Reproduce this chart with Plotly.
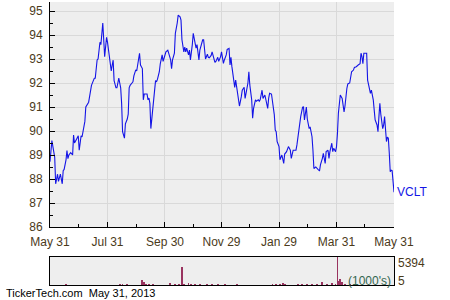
import pandas as pd
import plotly.graph_objects as go

# ---- data ----
start_date = "2012-05-31"
day_offsets = [0, 2, 5, 6, 8, 9, 11, 13, 14, 15, 17, 18, 19, 20, 22, 24, 25, 26, 28, 30,
               31, 33, 34, 35, 37, 38, 40, 41, 42, 44, 46, 47, 48, 50, 51, 52, 53, 54, 55, 56,
               57, 58, 59, 60, 61, 63, 64, 65, 66, 67, 68, 70, 71, 73, 74, 75, 76, 77, 79, 80,
               82, 83, 84, 85, 87, 88, 89, 90, 91, 92, 93, 95, 96, 98, 99, 100, 103, 104, 105, 106,
               107, 109, 110, 112, 113, 114, 116, 117, 119, 120, 121, 123, 125, 126, 128, 129, 130, 132, 133, 135,
               136, 138, 139, 140, 142, 143, 144, 145, 147, 148, 149, 151, 152, 154, 155, 156, 158, 159, 161, 162,
               163, 164, 165, 167, 168, 169, 171, 172, 174, 175, 176, 178, 179, 181, 182, 184, 185, 187, 188, 190,
               191, 192, 193, 195, 196, 197, 199, 200, 201, 203, 204, 206, 207, 208, 210, 211, 212, 214, 215, 216,
               218, 219, 221, 222, 223, 225, 226, 228, 229, 231, 232, 233, 235, 236, 238, 239, 240, 241, 243, 244,
               245, 246, 248, 249, 251, 252, 253, 255, 256, 258, 259, 261, 262, 263, 265, 266, 268, 269, 270, 272,
               273, 275, 276, 278, 279, 280, 282, 283, 285, 286, 287, 289, 290, 292, 293, 295, 296, 297, 299, 300,
               301, 303, 304, 305, 306, 308, 309, 310, 312, 313, 315, 316, 318, 319, 320, 322, 323, 325, 326, 327,
               329, 330, 331, 332, 333, 335, 336, 337, 339, 340, 341, 343, 344, 345, 347, 348, 349, 350, 351, 353,
               354, 355, 356, 357, 358, 359, 360, 361, 362, 363, 365]
prices = [88.72, 89.60, 88.90, 87.80, 88.20, 87.90, 88.20, 87.80, 88.35, 88.40, 88.80, 89.18, 88.85, 89.00, 89.10, 89.00, 89.83, 89.50, 89.65, 89.80,
          89.20, 89.80, 89.75, 90.00, 90.40, 91.00, 91.15, 91.20, 91.43, 91.90, 92.10, 92.20, 92.20, 92.96, 93.00, 93.45, 93.70, 93.60, 94.07, 94.50,
          93.80, 93.10, 93.50, 93.90, 93.70, 93.10, 93.00, 92.50, 92.75, 92.95, 92.10, 91.80, 91.80, 92.20, 92.00, 91.80, 91.15, 89.97, 89.70, 90.30,
          90.50, 90.70, 91.80, 91.90, 92.00, 92.05, 92.30, 92.50, 92.55, 92.50, 92.75, 93.24, 92.75, 92.60, 91.30, 91.54, 91.54, 91.30, 91.37, 91.15,
          90.10, 90.90, 91.43, 92.10, 92.05, 92.15, 92.47, 92.80, 93.17, 92.90, 93.03, 93.30, 93.37, 93.24, 92.96, 92.60, 92.96, 93.24, 94.07, 94.50,
          94.83, 94.76, 94.62, 93.80, 93.30, 93.50, 93.30, 93.45, 93.17, 93.37, 92.96, 93.60, 94.07, 93.65, 93.45, 93.60, 92.96, 93.37, 93.72, 93.80,
          93.80, 93.45, 93.00, 93.20, 93.07, 93.05, 93.15, 93.30, 92.90, 92.86, 92.90, 93.07, 92.90, 93.10, 93.30, 92.82, 92.96, 93.17, 93.40, 93.44,
          92.75, 93.07, 92.68, 91.92, 91.82, 92.12, 91.64, 91.30, 91.04, 91.43, 91.70, 91.82, 91.36, 91.57, 92.00, 92.47, 91.92, 91.30, 90.53, 90.94,
          91.30, 91.24, 91.30, 91.24, 91.30, 91.70, 91.36, 91.50, 91.30, 90.94, 91.36, 91.57, 91.54, 91.30, 90.67, 90.04, 89.97, 89.56, 89.35, 88.80,
          88.94, 89.00, 88.65, 89.04, 89.14, 89.24, 89.35, 89.20, 88.86, 89.20, 89.20, 89.20, 89.42, 89.76, 90.25, 90.60, 90.99, 91.00, 90.46, 91.00,
          90.50, 90.10, 90.17, 89.76, 89.20, 88.44, 88.50, 88.44, 88.37, 88.35, 88.60, 88.86, 89.07, 88.65, 89.14, 89.20, 88.86, 89.14, 89.49, 89.14,
          89.28, 89.14, 89.35, 89.90, 90.74, 91.50, 91.43, 91.36, 90.80, 91.04, 91.78, 91.96, 92.00, 92.26, 92.47, 92.54, 92.65, 92.68, 92.70, 92.75,
          92.80, 93.24, 93.10, 92.80, 93.24, 93.24, 93.24, 92.12, 91.70, 91.57, 91.70, 91.30, 90.87, 90.46, 90.25, 89.97, 90.60, 91.15, 90.70, 90.10,
          90.24, 90.60, 90.07, 89.56, 89.74, 89.70, 89.07, 88.30, 88.37, 88.35, 87.45]

vol_days = [17, 35, 41, 74, 77, 82, 98, 100, 102, 105, 109, 127, 133, 137, 140, 142, 147, 150, 154, 159,
            167, 172, 178, 186, 198, 236, 240, 244, 247, 249, 263, 267, 273, 278, 283, 289, 294, 299, 303, 305,
            307, 308, 310, 313, 318, 324]
volumes = [150, 100, 100, 150, 150, 150, 1100, 600, 300, 250, 250, 400, 200, 300, 3500, 300, 500, 300, 200, 200,
           200, 200, 300, 150, 150, 250, 250, 250, 500, 300, 300, 250, 300, 300, 350, 700, 200, 450, 300, 5394,
           900, 1200, 600, 250, 150, 150]

tick_dates = ["2012-05-31", "2012-07-31", "2012-09-30", "2012-11-29", "2013-01-29", "2013-03-31", "2013-05-31"]
tick_text = ["May 31", "Jul 31", "Sep 30", "Nov 29", "Jan 29", "Mar 31", "May 31"]
minor_dates = ["2012-06-30", "2012-08-31", "2012-10-30", "2012-12-29", "2013-02-28", "2013-04-30"]
price_ticks = [86, 87, 88, 89, 90, 91, 92, 93, 94, 95]
vol_labels = ["5394", "5"]
symbol = "VCLT"
footer = "TickerTech.com  May 31, 2013"

# ---- build ----
base = pd.Timestamp(start_date)
dates = base + pd.to_timedelta(day_offsets, unit="D")
vdates = base + pd.to_timedelta(vol_days, unit="D")

label_color = "#4b3a1a"
bg = "#eeeeee"
grid = "#d9d9d9"
font_family = "Liberation Sans, Arial, sans-serif"

fig = go.Figure()
fig.add_trace(go.Scatter(x=dates, y=prices, mode="lines",
                         line=dict(color="#1414e6", width=1.1),
                         xaxis="x", yaxis="y", showlegend=False))
fig.add_trace(go.Bar(x=vdates, y=volumes, marker=dict(color="#99335f", line=dict(width=0)),
                     width=86400000 * 0.9, xaxis="x2", yaxis="y2", showlegend=False))

main_bottom = (285 - 227) / 283
vol_top = (285 - 256.5) / 283

fig.update_layout(
    width=450, height=300,
    margin=dict(l=50, r=56, t=2, b=15),
    paper_bgcolor="white", plot_bgcolor=bg,
    font=dict(family=font_family, size=12, color=label_color),
    bargap=0,
    xaxis=dict(domain=[0, 1], anchor="y", type="date",
               range=[tick_dates[0], tick_dates[-1]],
               tickmode="array", tickvals=tick_dates, ticktext=tick_text,
               ticks="inside", ticklen=5, tickcolor="black",
               showgrid=True, gridcolor=grid, gridwidth=1,
               showline=True, linecolor="black", linewidth=1,
               zeroline=False, ticklabelstandoff=4,
               minor=dict(tickvals=minor_dates, ticks="inside", ticklen=3,
                          tickcolor="black", showgrid=False)),
    yaxis=dict(domain=[main_bottom, 1], anchor="x",
               range=[86, 95.375],
               tickmode="array", tickvals=price_ticks,
               ticks="inside", ticklen=5, tickcolor="black",
               showgrid=True, gridcolor=grid, gridwidth=1,
               showline=True, linecolor="black", linewidth=1,
               zeroline=False, ticklabelstandoff=4,
               minor=dict(dtick=0.5, tick0=85.5, ticks="inside", ticklen=3,
                          tickcolor="black", showgrid=False)),
    xaxis2=dict(domain=[0, 1], anchor="y2", type="date",
                range=[tick_dates[0], tick_dates[-1]],
                showticklabels=False, ticks="", showgrid=False,
                showline=True, linecolor="black", linewidth=1, mirror=True,
                zeroline=False),
    yaxis2=dict(domain=[0, vol_top], anchor="x2",
                range=[5, 5394], showticklabels=False, ticks="",
                showgrid=False, showline=True, linecolor="black",
                linewidth=1, mirror=True, zeroline=False),
)

annotations = [
    dict(x=dates[-1], y=prices[-1], xref="x", yref="y", text=symbol,
         showarrow=False, xanchor="left", yanchor="middle", xshift=1,
         font=dict(color="#1414e6", size=12)),
    dict(x=1, y=(285 - 263) / 283, xref="paper", yref="paper", text=vol_labels[0],
         showarrow=False, xanchor="left", yanchor="middle", xshift=2,
         font=dict(color=label_color, size=12)),
    dict(x=1, y=(285 - 281) / 283, xref="paper", yref="paper", text=vol_labels[1],
         showarrow=False, xanchor="left", yanchor="middle", xshift=2,
         font=dict(color=label_color, size=12)),
    dict(x=1, y=(285 - 281) / 283, xref="paper", yref="paper", text="(1000's)",
         showarrow=False, xanchor="right", yanchor="middle", xshift=-1,
         font=dict(color="#336650", size=12)),
    dict(x=0, y=(285 - 293) / 283, xref="paper", yref="paper", text=footer,
         showarrow=False, xanchor="left", yanchor="middle", xshift=-46,
         font=dict(color="black", size=11)),
]
fig.update_layout(annotations=annotations)

fig.write_html("out.html")
